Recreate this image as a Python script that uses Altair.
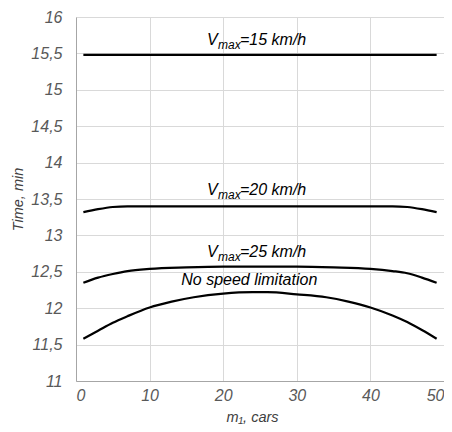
import altair as alt
import pandas as pd

# data
m_nolim = [1, 3, 5, 7, 10, 13, 16, 20, 24, 26, 30, 34, 37, 40, 43, 45, 47, 49]
t_nolim = [11.58, 11.69, 11.80, 11.89, 12.01, 12.09, 12.15, 12.20, 12.22, 12.22,
           12.19, 12.15, 12.09, 12.01, 11.90, 11.81, 11.70, 11.58]

m_v25 = [1, 3, 5, 7, 10, 15, 20, 25, 30, 35, 40, 43, 45, 47, 49]
t_v25 = [12.35, 12.42, 12.47, 12.51, 12.54, 12.56, 12.57, 12.57, 12.57, 12.56,
         12.54, 12.51, 12.48, 12.42, 12.35]

m_v20 = [1, 3, 5, 7, 10, 20, 30, 40, 43, 45, 47, 49]
t_v20 = [13.32, 13.36, 13.39, 13.40, 13.40, 13.40, 13.40, 13.40, 13.40, 13.39, 13.36, 13.32]

m_v15 = [1, 49]
t_v15 = [15.48, 15.48]

series_names = ["No speed limitation", "Vmax=25", "Vmax=20", "Vmax=15"]

# labels
lab_x = [17.8, 17.8, 17.8]
lab_y = [15.61, 13.555, 12.70]
lab_num = ["=15 km/h", "=20 km/h", "=25 km/h"]
nolim_x = [14.3]
nolim_y = [12.317]
nolim_text = ["No speed limitation"]

y_ticks = [11, 11.5, 12, 12.5, 13, 13.5, 14, 14.5, 15, 15.5, 16]
x_ticks = [0, 10, 20, 30, 40, 50]

rows = []
for name, ms, ts in zip(series_names, [m_nolim, m_v25, m_v20, m_v15],
                        [t_nolim, t_v25, t_v20, t_v15]):
    for m, t in zip(ms, ts):
        rows.append({"series": name, "m": m, "t": t})
df = pd.DataFrame(rows)

labels = pd.DataFrame({"m": lab_x, "t": lab_y, "num": lab_num})
nolim = pd.DataFrame({"m": nolim_x, "t": nolim_y, "txt": nolim_text})

FONT = "Liberation Sans"

xs = alt.X("m:Q", scale=alt.Scale(domain=[0, 50], nice=False),
           axis=alt.Axis(values=x_ticks, title="m\u2081, cars", labelPadding=6,
                         titleX=176, titleY=40, titleBaseline="alphabetic",
                         labelOverlap=False))
ys = alt.Y("t:Q", scale=alt.Scale(domain=[11, 16], nice=False, zero=False),
           axis=alt.Axis(values=y_ticks, title="Time, min", labelPadding=14,
                         titleX=-54, titleBaseline="alphabetic", labelOverlap=False,
                         labelExpr="replace(format(datum.value, '.1~f'), '.', ',')"))

lines = alt.Chart(df).mark_line(color="black", strokeWidth=2.2, interpolate="monotone").encode(
    x=xs, y=ys, detail="series:N"
)

base_txt = dict(font=FONT, fontStyle="italic", color="black", align="left", baseline="alphabetic")
t_v = alt.Chart(labels).mark_text(fontSize=16, **base_txt).encode(
    x=xs, y=ys, text=alt.value("V"))
t_max = alt.Chart(labels).mark_text(fontSize=12, dx=11, dy=4, **base_txt).encode(
    x=xs, y=ys, text=alt.value("max"))
t_num = alt.Chart(labels).mark_text(fontSize=16, dx=33, **base_txt).encode(
    x=xs, y=ys, text="num:N")
t_nolim = alt.Chart(nolim).mark_text(fontSize=16, **base_txt).encode(
    x=xs, y=ys, text="txt:N")

chart = alt.layer(lines, t_v, t_max, t_num, t_nolim).properties(
    width=368, height=364,
    autosize=alt.AutoSizeParams(type="none"),
    padding={"left": 68, "top": 9, "right": 0, "bottom": 43},
).configure_view(stroke=None).configure_axis(
    grid=True, gridColor="#d9d9d9", gridWidth=1,
    domainColor="#a6a6a6", domainWidth=1, ticks=False,
    labelFont=FONT, labelFontSize=16, labelFontStyle="italic", labelColor="#595959",
    titleFont=FONT, titleFontSize=14.5, titleFontStyle="italic", titleFontWeight="normal",
    titleColor="#404040",
)

chart.save("out.html", embed_options={"renderer": "svg", "actions": False})
